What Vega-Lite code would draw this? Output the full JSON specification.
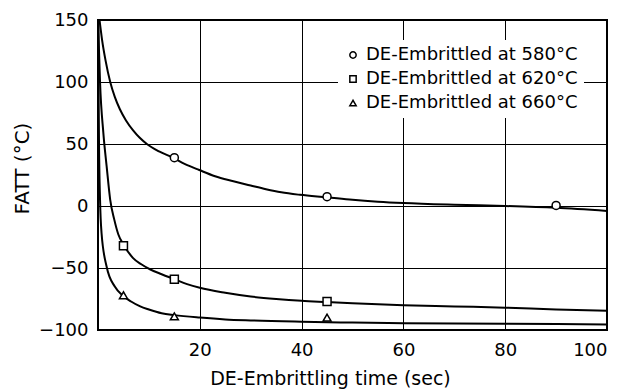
{
  "$schema": "https://vega.github.io/schema/vega-lite/v6.json",
  "width": 509,
  "height": 310,
  "autosize": {"type": "none"},
  "padding": {"left": 98, "top": 20, "right": 19, "bottom": 62},
  "background": "white",
  "config": {
    "font": "DejaVu Sans",
    "view": {"stroke": "black", "strokeWidth": 2},
    "axis": {
      "domain": false,
      "ticks": false,
      "gridColor": "black",
      "gridOpacity": 1,
      "gridWidth": 1,
      "labelColor": "black",
      "titleColor": "black",
      "labelFont": "DejaVu Sans",
      "titleFont": "DejaVu Sans",
      "labelFontSize": 18,
      "titleFontSize": 18,
      "titleFontWeight": "normal"
    }
  },
  "datasets": {
    "curves": [
      {"series": "580", "t": 0.3, "fatt": 150}, {"series": "580", "t": 0.8, "fatt": 134}, {"series": "580", "t": 1.5, "fatt": 117},
      {"series": "580", "t": 2.4, "fatt": 100}, {"series": "580", "t": 3.3, "fatt": 88}, {"series": "580", "t": 4.3, "fatt": 78},
      {"series": "580", "t": 5.5, "fatt": 69}, {"series": "580", "t": 6.9, "fatt": 61}, {"series": "580", "t": 8.2, "fatt": 55},
      {"series": "580", "t": 9.6, "fatt": 50}, {"series": "580", "t": 12, "fatt": 44}, {"series": "580", "t": 14.7, "fatt": 39},
      {"series": "580", "t": 17, "fatt": 34}, {"series": "580", "t": 19.9, "fatt": 29}, {"series": "580", "t": 23, "fatt": 24},
      {"series": "580", "t": 26.6, "fatt": 20}, {"series": "580", "t": 30, "fatt": 16.5}, {"series": "580", "t": 33, "fatt": 13.5},
      {"series": "580", "t": 36, "fatt": 11}, {"series": "580", "t": 39.7, "fatt": 9}, {"series": "580", "t": 45, "fatt": 7},
      {"series": "580", "t": 50, "fatt": 5}, {"series": "580", "t": 55, "fatt": 3.5}, {"series": "580", "t": 60, "fatt": 2.4},
      {"series": "580", "t": 70, "fatt": 1}, {"series": "580", "t": 80, "fatt": 0}, {"series": "580", "t": 90, "fatt": -1.5},
      {"series": "580", "t": 100, "fatt": -4},
      {"series": "620", "t": 0.05, "fatt": 150}, {"series": "620", "t": 0.2, "fatt": 125}, {"series": "620", "t": 0.4, "fatt": 100},
      {"series": "620", "t": 1.05, "fatt": 59}, {"series": "620", "t": 1.7, "fatt": 32}, {"series": "620", "t": 2.4, "fatt": 5},
      {"series": "620", "t": 3.2, "fatt": -11}, {"series": "620", "t": 4, "fatt": -23}, {"series": "620", "t": 5, "fatt": -31},
      {"series": "620", "t": 6.9, "fatt": -42}, {"series": "620", "t": 8.5, "fatt": -47}, {"series": "620", "t": 10.2, "fatt": -51},
      {"series": "620", "t": 12.5, "fatt": -55}, {"series": "620", "t": 15, "fatt": -59}, {"series": "620", "t": 17.5, "fatt": -63},
      {"series": "620", "t": 20, "fatt": -66}, {"series": "620", "t": 25, "fatt": -70}, {"series": "620", "t": 30, "fatt": -73},
      {"series": "620", "t": 35, "fatt": -75}, {"series": "620", "t": 40, "fatt": -76.5}, {"series": "620", "t": 45, "fatt": -77.5},
      {"series": "620", "t": 50, "fatt": -78.5}, {"series": "620", "t": 60, "fatt": -80}, {"series": "620", "t": 70, "fatt": -81},
      {"series": "620", "t": 80, "fatt": -82}, {"series": "620", "t": 90, "fatt": -83.5}, {"series": "620", "t": 100, "fatt": -84.5},
      {"series": "660", "t": 0.02, "fatt": 150}, {"series": "660", "t": 0.1, "fatt": 100}, {"series": "660", "t": 0.2, "fatt": 50},
      {"series": "660", "t": 0.4, "fatt": 5}, {"series": "660", "t": 0.7, "fatt": -22}, {"series": "660", "t": 1.7, "fatt": -49},
      {"series": "660", "t": 3.3, "fatt": -65}, {"series": "660", "t": 4.8, "fatt": -72}, {"series": "660", "t": 6.5, "fatt": -77},
      {"series": "660", "t": 8.3, "fatt": -81}, {"series": "660", "t": 10, "fatt": -83.5}, {"series": "660", "t": 12.5, "fatt": -86.5},
      {"series": "660", "t": 15, "fatt": -88}, {"series": "660", "t": 20, "fatt": -90}, {"series": "660", "t": 25, "fatt": -91.5},
      {"series": "660", "t": 30, "fatt": -92.3}, {"series": "660", "t": 40, "fatt": -93.3}, {"series": "660", "t": 50, "fatt": -94},
      {"series": "660", "t": 60, "fatt": -94.5}, {"series": "660", "t": 80, "fatt": -95}, {"series": "660", "t": 100, "fatt": -95.5}
    ],
    "points": [
      {"label": "DE-Embrittled at 580°C", "t": 15, "fatt": 39},
      {"label": "DE-Embrittled at 580°C", "t": 45, "fatt": 7.5},
      {"label": "DE-Embrittled at 580°C", "t": 90, "fatt": 0.5},
      {"label": "DE-Embrittled at 620°C", "t": 5, "fatt": -32},
      {"label": "DE-Embrittled at 620°C", "t": 15, "fatt": -59},
      {"label": "DE-Embrittled at 620°C", "t": 45, "fatt": -77},
      {"label": "DE-Embrittled at 660°C", "t": 5, "fatt": -72},
      {"label": "DE-Embrittled at 660°C", "t": 15, "fatt": -89},
      {"label": "DE-Embrittled at 660°C", "t": 45, "fatt": -90}
    ]
  },
  "layer": [
    {
      "data": {"name": "curves"},
      "mark": {"type": "line", "color": "black", "strokeWidth": 2, "clip": true, "interpolate": "monotone"},
      "encoding": {
        "x": {
          "field": "t", "type": "quantitative",
          "scale": {"domain": [0, 100], "nice": false},
          "axis": {"values": [20, 40, 60, 80, 100], "title": "DE-Embrittling time (sec)", "labelPadding": 11, "titlePadding": 10, "titleX": 232, "titleFontSize": 19}
        },
        "y": {
          "field": "fatt", "type": "quantitative",
          "scale": {"domain": [-100, 150], "nice": false},
          "axis": {"values": [-100, -50, 0, 50, 100, 150], "title": "FATT (°C)", "labelPadding": 10, "titlePadding": 6, "titleY": 148, "titleFontSize": 20}
        },
        "detail": {"field": "series"}
      }
    },
    {
      "data": {"name": "points"},
      "mark": {"type": "point", "filled": false, "color": "black", "fill": "white", "fillOpacity": 1, "opacity": 1, "strokeWidth": 1.5, "size": 64},
      "encoding": {
        "x": {"field": "t", "type": "quantitative"},
        "y": {"field": "fatt", "type": "quantitative"},
        "shape": {
          "field": "label", "type": "nominal",
          "scale": {"domain": ["DE-Embrittled at 580°C", "DE-Embrittled at 620°C", "DE-Embrittled at 660°C"], "range": ["circle", "square", "triangle-up"]},
          "legend": {
            "title": null,
            "orient": "none",
            "legendX": 240,
            "legendY": 20,
            "fillColor": "white",
            "padding": 6,
            "labelFontSize": 18,
            "labelLimit": 400,
            "rowPadding": 6,
            "symbolSize": 40
          }
        }
      }
    }
  ]
}
